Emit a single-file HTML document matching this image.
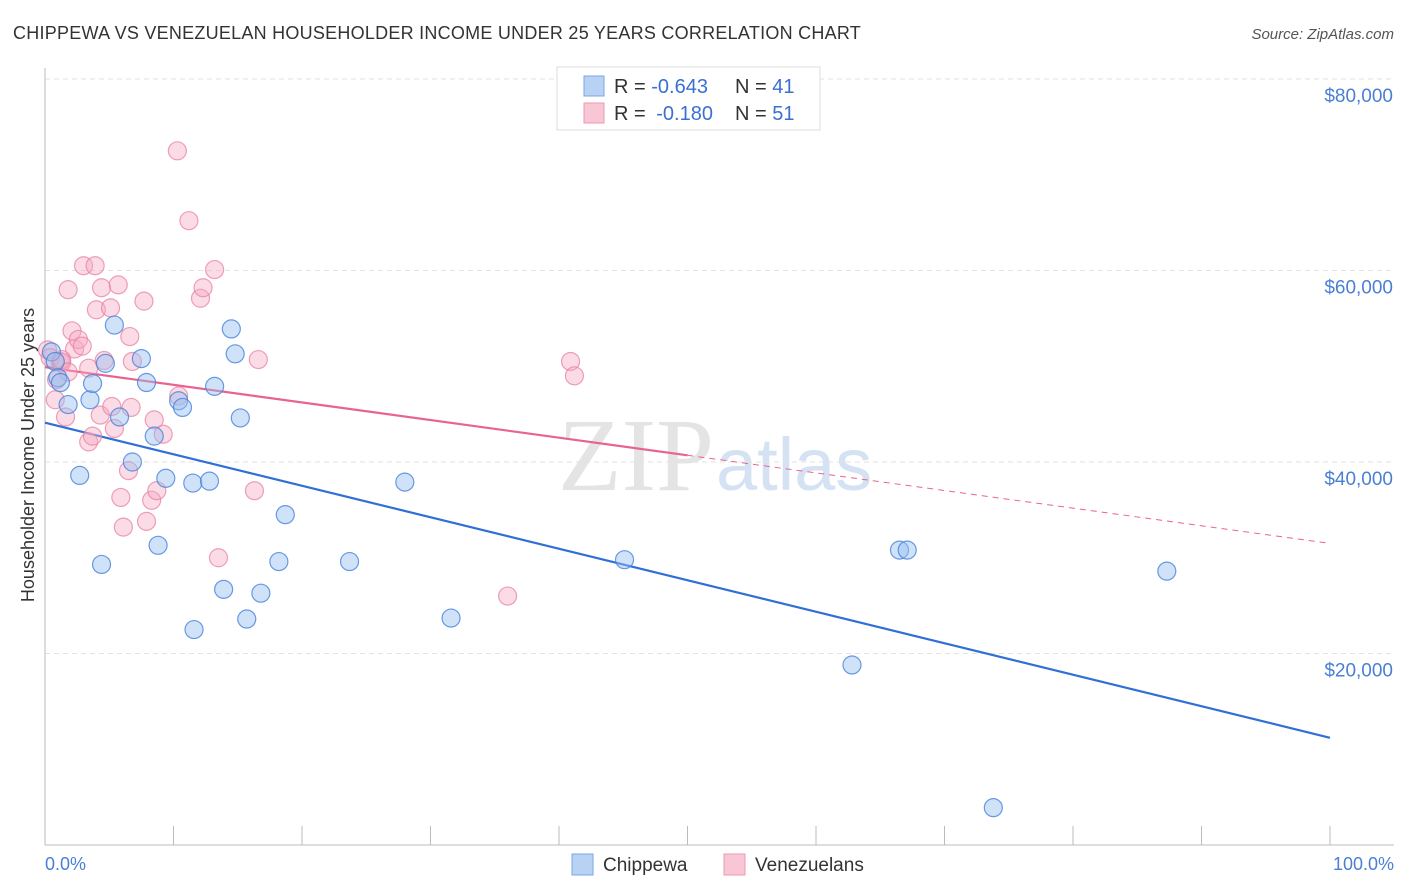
<!DOCTYPE html>
<html><head><meta charset="utf-8">
<style>
body{margin:0;background:#fff;font-family:"Liberation Sans",sans-serif;}
#wrap{position:relative;width:1406px;height:892px;overflow:hidden;}
</style></head>
<body>
<div id="wrap">
<svg id="chart" width="1406" height="892">
<text x="13" y="39" font-size="18" fill="#333" letter-spacing="0.25">CHIPPEWA VS VENEZUELAN HOUSEHOLDER INCOME UNDER 25 YEARS CORRELATION CHART</text>
<text x="1394" y="39" font-size="15" fill="#555" font-style="italic" text-anchor="end">Source: ZipAtlas.com</text>
<text x="714" y="490" font-size="104" fill="#e4e4e4" text-anchor="end" font-family="Liberation Serif,serif">ZIP</text>
<text x="716" y="490" font-size="74" fill="#d5e2f3">atlas</text>
<text transform="translate(34,455) rotate(-90)" font-size="18" fill="#333" text-anchor="middle">Householder Income Under 25 years</text>
<g id="grid"></g><g id="lines"></g><g id="pts"></g>
<text x="45" y="870" font-size="18" fill="#4a7fd4">0.0%</text>
<text x="1394" y="870" font-size="18" fill="#4a7fd4" text-anchor="end">100.0%</text>
<g>
<rect x="557" y="67" width="263" height="63" fill="#fff" stroke="#ddd"/>
<rect x="584" y="76" width="20" height="20" fill="#b8d2f4" stroke="#7aa6e6"/>
<rect x="584" y="103" width="20" height="20" fill="#f9c6d5" stroke="#ea9ab2"/>
<text x="614" y="93" font-size="20" fill="#333">R = <tspan fill="#3a70d2">-0.643</tspan><tspan x="735">N = </tspan><tspan fill="#3a70d2">41</tspan></text>
<text x="614" y="120" font-size="20" fill="#333">R = <tspan fill="#3a70d2" dx="5">-0.180</tspan><tspan x="735">N = </tspan><tspan fill="#3a70d2">51</tspan></text>
</g>
<g>
<rect x="572" y="854" width="21" height="21" fill="#b8d2f4" stroke="#7aa6e6"/>
<text x="603" y="871" font-size="19" fill="#333">Chippewa</text>
<rect x="724" y="854" width="21" height="21" fill="#f9c6d5" stroke="#ea9ab2"/>
<text x="755" y="871" font-size="19" fill="#333">Venezuelans</text>
</g>
</svg>
</div>
<script>
const yTicks=[20000,40000,60000,80000];
const yTickLabels=["$20,000","$40,000","$60,000","$80,000"];
const chippewaX=[0.5,0.8,1.0,1.2,1.8,2.7,3.5,3.7,4.4,4.7,5.4,5.8,6.8,7.5,7.9,8.5,8.8,9.4,10.4,10.7,11.5,11.6,12.8,13.2,13.9,14.5,14.8,15.2,15.7,16.8,18.2,18.7,23.7,28.0,31.6,45.1,62.8,66.5,67.1,73.8,87.3];
const chippewaY=[51500,50500,48800,48300,46000,38600,46500,48200,29300,50300,54300,44700,40000,50800,48300,42700,31300,38300,46400,45700,37800,22500,38000,47900,26700,53900,51300,44600,23600,26300,29600,34500,29600,37900,23700,29800,18800,30800,30800,3900,28600];
const venezX=[0.2,0.4,0.8,0.9,1.2,1.3,1.6,1.8,2.1,2.3,2.6,2.9,3.0,3.4,3.4,3.7,3.9,4.0,4.3,4.4,4.6,5.1,5.2,5.4,5.7,5.9,6.1,6.5,6.7,6.8,7.7,7.9,8.3,8.5,8.7,9.2,10.3,10.4,11.2,12.1,12.3,13.2,13.5,16.3,16.6,36.0,40.9,41.2,6.6,1.3,1.8];
const venezY=[51700,50900,46500,48600,50500,50400,44700,58000,53700,51800,52800,52100,60500,42100,49800,42700,60500,55900,44900,58200,50600,56100,45800,43500,58500,36300,33200,39100,45700,50500,56800,33800,36000,44400,37000,42900,72500,46900,65200,57100,58200,60100,30000,37000,50700,26000,50500,49000,53100,50700,49400];
const chippewaTrend=[44100,11200];
const venezTrend=[49900,31500];
const venezSolidEnd=50;

const NS="http://www.w3.org/2000/svg";
const X0=45,X1=1330,YB=845,Y80=79;
const xs=v=>X0+(X1-X0)*v/100;
const ys=v=>YB-(YB-Y80)*v/80000;
function mk(tag,attrs,parent){const e=document.createElementNS(NS,tag);for(const k in attrs)e.setAttribute(k,attrs[k]);parent.appendChild(e);return e;}
const grid=document.getElementById('grid'),lines=document.getElementById('lines'),pts=document.getElementById('pts');
yTicks.forEach((t,i)=>{
  const l=mk('line',{x1:X0,x2:1394,y1:ys(t),y2:ys(t),stroke:'#e2e2e2','stroke-dasharray':'5,4'},grid);
  
  
  const tx=mk('text',{x:1393,y:ys(t)+23,'font-size':19,fill:'#4a7fd4','text-anchor':'end'},grid);
  tx.textContent=yTickLabels[i];
  
  
});
const ax=mk('line',{x1:X0,x2:X0,y1:68,y2:YB,stroke:'#bbb'},grid);


const bx=mk('line',{x1:X0,x2:1394,y1:YB,y2:YB,stroke:'#bbb'},grid);


for(let i=0;i<=10;i++){const tk=mk('line',{x1:xs(i*10),x2:xs(i*10),y1:826,y2:YB,stroke:'#bbb'},grid);

}
function pt(x,y,fill,stroke,name){const c=mk('circle',{cx:xs(x),cy:ys(y),r:9,fill:fill,stroke:stroke,'stroke-width':1.2},pts);

}
venezX.forEach((x,i)=>pt(x,venezY[i],'rgba(246,170,195,0.42)','rgba(232,130,160,0.75)','venezuelan-point'));
chippewaX.forEach((x,i)=>pt(x,chippewaY[i],'rgba(150,190,240,0.45)','rgba(70,130,220,0.8)','chippewa-point'));
const bl=mk('line',{x1:xs(0),y1:ys(chippewaTrend[0]),x2:xs(100),y2:ys(chippewaTrend[1]),stroke:'#2f6fd6','stroke-width':2.2},lines);


const vm=venezTrend[0]+(venezTrend[1]-venezTrend[0])*venezSolidEnd/100;
const pl=mk('line',{x1:xs(0),y1:ys(venezTrend[0]),x2:xs(venezSolidEnd),y2:ys(vm),stroke:'#e8648f','stroke-width':2.2},lines);


const pd=mk('line',{x1:xs(venezSolidEnd),y1:ys(vm),x2:xs(100),y2:ys(venezTrend[1]),stroke:'#e8648f','stroke-width':1,'stroke-dasharray':'6,5'},lines);


</script>
</body></html>
